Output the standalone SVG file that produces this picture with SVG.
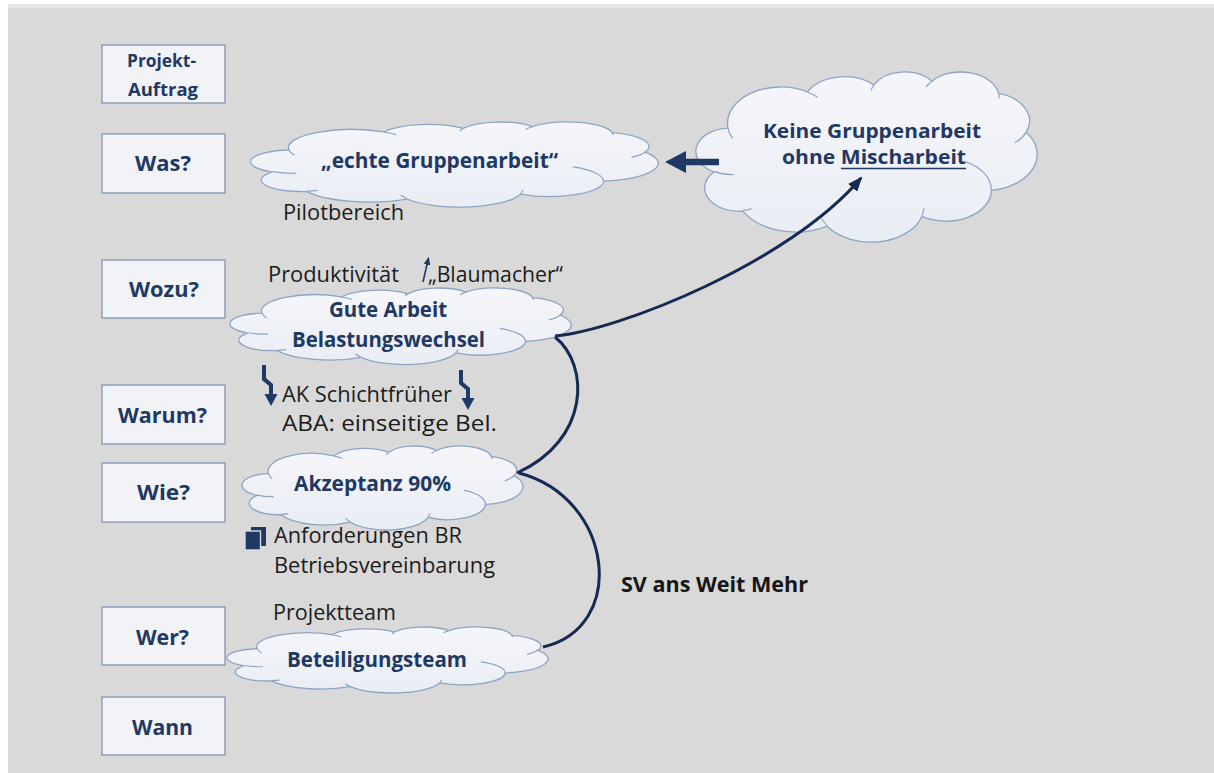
<svg xmlns="http://www.w3.org/2000/svg" xmlns:xlink="http://www.w3.org/1999/xlink" width="1214" height="773" viewBox="0 0 1214 773">
<defs>
<style>
.box rect{fill:#f2f3f6;stroke:#8294ae;stroke-width:1.3}
.lbl{font-family:"Open Sans","Liberation Sans",sans-serif;font-weight:700;font-size:22px;fill:#1f3864}
.lbl.small{font-size:18.5px}
.lbl.cl{font-size:21px}
.lbl.tight{font-size:19px}
.note{font-family:"Open Sans","Liberation Sans",sans-serif;font-size:22px;fill:#1c1c1c}
.strong{font-family:"Open Sans","Liberation Sans",sans-serif;font-weight:700;font-size:21.5px;fill:#161616}
.cloud-o{fill:url(#cloudFill);stroke:#8ea4c4;stroke-width:1.3}
.cloud-i{fill:none;stroke:#8ea4c4;stroke-width:1.2}
.link{fill:none;stroke:#142a52;stroke-width:3}
.navy{fill:#1f3864}
.bolt{fill:none;stroke:#1f3864;stroke-width:4}
</style>
<linearGradient id="cloudFill" x1="0" y1="0" x2="0" y2="1">
<stop offset="0" stop-color="#f5f6f9"/>
<stop offset="1" stop-color="#e9edf4"/>
</linearGradient>
<!-- cloud outline in a 100-unit box, plus the short inner strokes -->
<g id="cloud">
<path class="cloud-o" vector-effect="non-scaling-stroke" d="M9.03,33.26 A15.63,21.27 0 0 1 32.42,12.04 A12.34,16.82 0 0 1 51.98,7.94 A10.10,13.76 0 0 1 69.06,5.74 A11.24,15.27 0 0 1 88.70,12.90 A12.34,16.84 0 0 1 96.80,35.78 A15.68,21.34 0 0 1 86.58,69.91 A13.39,18.21 0 0 1 66.10,85.21 A15.63,21.33 0 0 1 38.15,90.89 A17.87,24.41 0 0 1 13.43,82.11 A10.09,13.70 0 0 1 4.89,59.14 A10.06,13.76 0 0 1 9.03,33.26 Z"/>
<path class="cloud-i" vector-effect="non-scaling-stroke" d="M10.86,60.59 A10.06,13.76 0 0 1 5.00,58.75 M16.04,80.78 A10.09,13.70 0 0 1 13.47,81.67 M38.14,90.49 A15.63,21.33 0 0 1 36.60,86.46 M66.73,80.44 A15.63,21.33 0 0 1 66.11,84.86 M79.00,53.13 A13.39,18.21 0 0 1 86.53,69.65 M96.80,35.78 A12.34,16.84 0 0 1 93.45,41.97 M88.71,12.56 A11.24,15.27 0 0 1 88.88,15.83 M67.31,9.15 A11.24,15.27 0 0 1 69.06,5.74 M51.15,11.16 A10.10,13.76 0 0 1 51.98,7.94 M32.42,12.04 A15.63,21.27 0 0 1 35.44,15.17 M10.35,39.38 A15.63,21.27 0 0 1 9.03,33.26"/>
</g>
<marker id="head" markerUnits="userSpaceOnUse" markerWidth="15" markerHeight="12" viewBox="0 0 15 12" refX="13" refY="6" orient="auto">
<path d="M0,0 L15,6 L0,12 Z" fill="#142a52"/>
</marker>
<marker id="headSmall" markerUnits="userSpaceOnUse" markerWidth="8" markerHeight="7" viewBox="0 0 8 7" refX="7" refY="3.5" orient="auto">
<path d="M0,0 L8,3.5 L0,7 Z" fill="#1f3864"/>
</marker>
</defs>

<!-- slide background -->
<rect x="0" y="0" width="1214" height="773" fill="#ffffff"/>
<rect x="8" y="4" width="1206" height="4" fill="#e6e6e6"/>
<rect x="8" y="8" width="1206" height="765" fill="#d9d9d9"/>

<!-- question column -->
<g id="box-projektauftrag" class="box">
<rect x="102" y="45" width="123" height="58"/>
<text class="lbl small" x="127" y="67" textLength="69" lengthAdjust="spacingAndGlyphs">Projekt-</text>
<text class="lbl small" x="128" y="96" textLength="70" lengthAdjust="spacingAndGlyphs">Auftrag</text>
</g>
<g id="box-was" class="box">
<rect x="102" y="134" width="123" height="59"/>
<text class="lbl" x="135" y="171" textLength="56" lengthAdjust="spacingAndGlyphs">Was?</text>
</g>
<g id="box-wozu" class="box">
<rect x="102" y="260" width="123" height="58"/>
<text class="lbl" x="129" y="297" textLength="70" lengthAdjust="spacingAndGlyphs">Wozu?</text>
</g>
<g id="box-warum" class="box">
<rect x="102" y="385" width="123" height="59"/>
<text class="lbl" x="118" y="423" textLength="89" lengthAdjust="spacingAndGlyphs">Warum?</text>
</g>
<g id="box-wie" class="box">
<rect x="102" y="463" width="123" height="59"/>
<text class="lbl" x="137" y="500" textLength="53" lengthAdjust="spacingAndGlyphs">Wie?</text>
</g>
<g id="box-wer" class="box">
<rect x="102" y="607" width="123" height="58"/>
<text class="lbl" x="136" y="645" textLength="53" lengthAdjust="spacingAndGlyphs">Wer?</text>
</g>
<g id="box-wann" class="box">
<rect x="102" y="697" width="123" height="58"/>
<text class="lbl" x="132" y="735" textLength="61" lengthAdjust="spacingAndGlyphs">Wann</text>
</g>

<!-- clouds -->
<g id="cloud-echte-gruppenarbeit">
<use xlink:href="#cloud" href="#cloud" transform="translate(252.37,121.73) scale(4.056,0.8504)"/>
<text class="lbl cl" x="321" y="168" textLength="237" lengthAdjust="spacingAndGlyphs">„echte Gruppenarbeit“</text>
</g>
<g id="cloud-keine-gruppenarbeit">
<use xlink:href="#cloud" href="#cloud" transform="translate(697.31,71.46) scale(3.397,1.701)"/>
<text class="lbl tight" x="763" y="138" textLength="218" lengthAdjust="spacingAndGlyphs">Keine Gruppenarbeit</text>
<text class="lbl tight" x="782" y="164" textLength="184" lengthAdjust="spacingAndGlyphs">ohne Mischarbeit</text>
<line x1="841" y1="168.5" x2="966" y2="168.5" stroke="#1f3864" stroke-width="1.7"/>
</g>
<g id="cloud-gute-arbeit">
<use xlink:href="#cloud" href="#cloud" transform="translate(231.31,287.76) scale(3.397,0.7654)"/>
<text class="lbl cl" x="329" y="317" textLength="118" lengthAdjust="spacingAndGlyphs">Gute Arbeit</text>
<text class="lbl cl" x="292" y="347" textLength="193" lengthAdjust="spacingAndGlyphs">Belastungswechsel</text>
</g>
<g id="cloud-akzeptanz">
<use xlink:href="#cloud" href="#cloud" transform="translate(243.25,445.73) scale(2.797,0.8398)"/>
<text class="lbl cl" x="294" y="491" textLength="157" lengthAdjust="spacingAndGlyphs">Akzeptanz 90%</text>
</g>
<g id="cloud-beteiligungsteam">
<use xlink:href="#cloud" href="#cloud" transform="translate(228.29,626.79) scale(3.197,0.6591)"/>
<text class="lbl cl" x="287" y="667" textLength="180" lengthAdjust="spacingAndGlyphs">Beteiligungsteam</text>
</g>

<!-- notes -->
<g id="note-pilotbereich">
<text class="note" x="283" y="220" textLength="121" lengthAdjust="spacingAndGlyphs">Pilotbereich</text>
</g>
<g id="note-produktivitaet">
<text class="note" x="268" y="282" textLength="131" lengthAdjust="spacingAndGlyphs">Produktivität</text>
<line x1="423" y1="282" x2="428.5" y2="258" stroke="#1f3864" stroke-width="1.6" marker-end="url(#headSmall)"/>
<text class="note" x="428" y="282" textLength="135" lengthAdjust="spacingAndGlyphs">„Blaumacher“</text>
</g>
<g id="note-belastung">
<path class="bolt" d="M264,365 V379 L271,385 V396"/>
<polygon class="navy" points="264.5,394 277.5,394 271,406"/>
<path class="bolt" d="M461,370 V383 L468,389 V400"/>
<polygon class="navy" points="461.5,398 474.5,398 468,410"/>
<text class="note" x="282" y="402" textLength="170" lengthAdjust="spacingAndGlyphs">AK Schichtfrüher</text>
<text class="note" x="282" y="431" textLength="215" lengthAdjust="spacingAndGlyphs">ABA: einseitige Bel.</text>
</g>
<g id="note-anforderungen">
<rect x="251" y="527" width="15" height="19" class="navy"/>
<rect x="245" y="531" width="15.5" height="19" class="navy" stroke="#d9d9d9" stroke-width="1.4"/>
<text class="note" x="274" y="543" textLength="188" lengthAdjust="spacingAndGlyphs">Anforderungen BR</text>
<text class="note" x="274" y="573" textLength="221" lengthAdjust="spacingAndGlyphs">Betriebsvereinbarung</text>
</g>
<g id="note-projektteam">
<text class="note" x="273" y="620" textLength="123" lengthAdjust="spacingAndGlyphs">Projektteam</text>
</g>
<g id="note-sv">
<text class="strong" x="621" y="592" textLength="187" lengthAdjust="spacingAndGlyphs">SV ans Weit Mehr</text>
</g>

<!-- connectors -->
<g id="connectors">
<path class="link" d="M555,336 C620,330 790,262 861,178" marker-end="url(#head)"/>
<path class="link" d="M555,337 C590,365 590,440 517,473"/>
<path class="link" d="M519,473 C614,498 628,628 543,647"/>
<line x1="719" y1="162" x2="684" y2="162" stroke="#1f3864" stroke-width="6.5"/>
<polygon class="navy" points="665,162 686,151 686,173"/>
</g>
</svg>
